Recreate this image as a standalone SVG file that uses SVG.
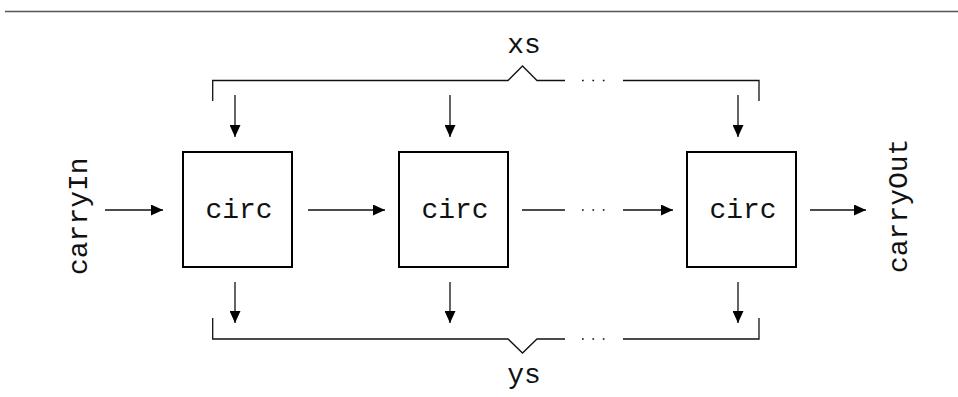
<svg xmlns="http://www.w3.org/2000/svg" width="958" height="397" viewBox="0 0 958 397">
  <style>
    .line { fill: none; stroke: #111; stroke-width: 1.3; }
    .arrow { fill: none; stroke: #111; stroke-width: 1.3; marker-end: url(#head); }
    .dots { fill: none; stroke: #111; stroke-width: 1.7; stroke-dasharray: 1.7 8.7; }
    .box { fill: #fff; stroke: #000; stroke-width: 2; }
    .label { font-family: "Liberation Mono", "Courier New", monospace; font-size: 28px; fill: #111; }
  </style>
  <defs>
    <marker id="head" markerUnits="userSpaceOnUse" markerWidth="12" markerHeight="11" refX="12" refY="5.5" orient="auto">
      <path d="M0,0 L12,5.5 L0,11 Z" fill="#000"/>
    </marker>
  </defs>

  <!-- rule across the top -->
  <line x1="5" y1="11.5" x2="958" y2="11.5" stroke="#555" stroke-width="1.6"/>

  <g id="connectors">
    <!-- xs bus -->
    <path class="line" d="M212.7,101 V80.5 H508 L522.5,66 L537,80.5 H565"/>
    <path class="line" d="M623,80.5 H759 V101"/>
    <line class="dots" x1="582" y1="80.5" x2="606" y2="80.5"/>
    <line class="arrow" x1="235" y1="95" x2="235" y2="137"/>
    <line class="arrow" x1="450" y1="95" x2="450" y2="137"/>
    <line class="arrow" x1="738" y1="95" x2="738" y2="137"/>

    <!-- carry chain -->
    <line class="arrow" x1="105" y1="210" x2="163" y2="210"/>
    <line class="arrow" x1="308" y1="210" x2="385" y2="210"/>
    <line class="line" x1="522" y1="210" x2="565" y2="210"/>
    <line class="dots" x1="582" y1="210" x2="606" y2="210"/>
    <line class="arrow" x1="623" y1="210" x2="673" y2="210"/>
    <line class="arrow" x1="810" y1="210" x2="866" y2="210"/>

    <!-- ys bus -->
    <line class="arrow" x1="235" y1="282" x2="235" y2="323"/>
    <line class="arrow" x1="450" y1="282" x2="450" y2="323"/>
    <line class="arrow" x1="738" y1="282" x2="738" y2="323"/>
    <path class="line" d="M212.7,318 V339 H508 L522.5,353 L537,339 H565"/>
    <path class="line" d="M623,339 H759 V318"/>
    <line class="dots" x1="582" y1="339" x2="606" y2="339"/>
  </g>

  <g id="xs">
    <text class="label" x="524" y="53" text-anchor="middle">xs</text>
  </g>
  <g id="ys">
    <text class="label" x="524" y="383" text-anchor="middle">ys</text>
  </g>
  <g id="carryIn">
    <text class="label" transform="translate(87,275) rotate(-90)">carryIn</text>
  </g>
  <g id="carryOut">
    <text class="label" transform="translate(907,273) rotate(-90)">carryOut</text>
  </g>

  <g id="circ1">
    <rect class="box" x="183" y="152" width="109" height="115"/>
    <text class="label" x="239" y="218" text-anchor="middle">circ</text>
  </g>
  <g id="circ2">
    <rect class="box" x="399" y="152" width="109" height="115"/>
    <text class="label" x="455" y="218" text-anchor="middle">circ</text>
  </g>
  <g id="circ3">
    <rect class="box" x="687" y="152" width="109" height="115"/>
    <text class="label" x="743" y="218" text-anchor="middle">circ</text>
  </g>
</svg>
